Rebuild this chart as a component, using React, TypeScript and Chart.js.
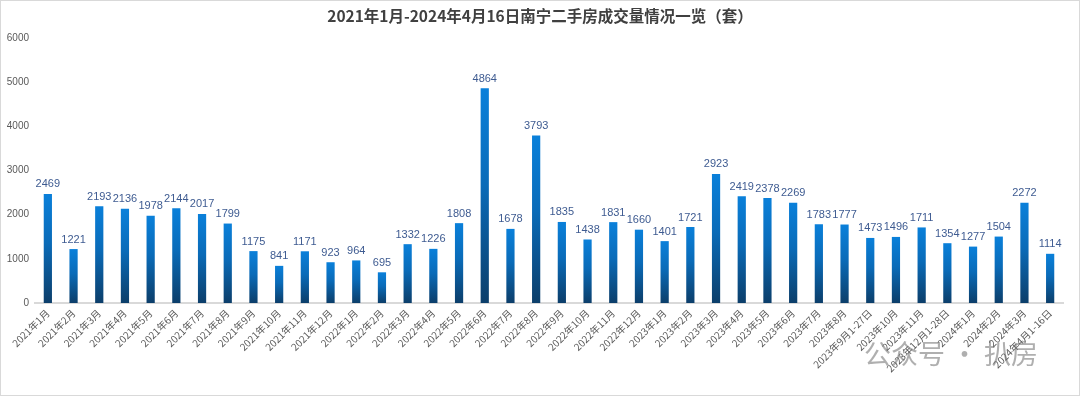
import React, { useEffect, useRef } from "react";
import { Chart, registerables } from "chart.js";

Chart.register(...registerables);

const TITLE = "2021年1月-2024年4月16日南宁二手房成交量情况一览（套）";

const categories: string[] = [
  "2021年1月", "2021年2月", "2021年3月", "2021年4月", "2021年5月", "2021年6月",
  "2021年7月", "2021年8月", "2021年9月", "2021年10月", "2021年11月", "2021年12月",
  "2022年1月", "2022年2月", "2022年3月", "2022年4月", "2022年5月", "2022年6月",
  "2022年7月", "2022年8月", "2022年9月", "2022年10月", "2022年11月", "2022年12月",
  "2023年1月", "2023年2月", "2023年3月", "2023年4月", "2023年5月", "2023年6月",
  "2023年7月", "2023年8月", "2023年9月1-27日", "2023年10月", "2023年11月", "2023年12月1-28日",
  "2024年1月", "2024年2月", "2024年3月", "2024年4月1-16日",
];

const volumes: number[] = [
  2469, 1221, 2193, 2136, 1978, 2144, 2017, 1799, 1175, 841, 1171, 923,
  964, 695, 1332, 1226, 1808, 4864, 1678, 3793, 1835, 1438, 1831, 1660,
  1401, 1721, 2923, 2419, 2378, 2269, 1783, 1777, 1473, 1496, 1711, 1354,
  1277, 1504, 2272, 1114,
];

const yTicks: number[] = [0, 1000, 2000, 3000, 4000, 5000, 6000];

const W = 1080;
const H = 396;

export default function App() {
  const ref = useRef<HTMLCanvasElement | null>(null);

  useEffect(() => {
    document.body.style.margin = "0";
    const canvas = ref.current;
    if (!canvas) return;

    const decor = {
      id: "decor",
      beforeDraw(chart: any) {
        const ctx = chart.ctx;
        ctx.save();
        ctx.fillStyle = "#ffffff";
        ctx.fillRect(0, 0, W, H);
        ctx.restore();
      },
      afterDatasetsDraw(chart: any) {
        const ctx = chart.ctx;
        const meta = chart.getDatasetMeta(0);
        ctx.save();
        ctx.font = "11px 'Liberation Sans', sans-serif";
        ctx.fillStyle = "#3E5B91";
        ctx.textAlign = "center";
        ctx.textBaseline = "bottom";
        meta.data.forEach((bar: any, i: number) => {
          ctx.fillText(String(volumes[i]), bar.x, bar.y - 4);
        });
        ctx.restore();
      },
      afterDraw(chart: any) {
        const ctx = chart.ctx;
        ctx.save();
        // title
        ctx.font = "bold 15.5px 'Noto Sans CJK SC', sans-serif";
        ctx.fillStyle = "#404040";
        ctx.textAlign = "center";
        ctx.textBaseline = "middle";
        ctx.fillText(TITLE, 540, 16);
        // overlay text
        ctx.font = "27px 'Noto Sans CJK SC', sans-serif";
        ctx.fillStyle = "rgba(110,110,110,0.55)";
        ctx.textAlign = "left";
        ctx.fillText("公众号 · 扒房", 864, 354);
        // frame
        ctx.strokeStyle = "#D9D9D9";
        ctx.lineWidth = 1;
        ctx.strokeRect(0.5, 0.5, W - 1, H - 1);
        ctx.restore();
      },
    };

    const chart = new Chart(canvas, {
      type: "bar",
      data: {
        labels: categories,
        datasets: [
          {
            data: volumes,
            backgroundColor: (c: any) => {
              const chartObj = c.chart;
              const y = chartObj.scales?.y;
              if (!y || c.type !== "data") return "#0A7DD6";
              const v = volumes[c.dataIndex];
              const top = y.getPixelForValue(v);
              const bottom = y.getPixelForValue(0);
              if (!isFinite(top) || !isFinite(bottom) || top === bottom) return "#0A7DD6";
              const g = chartObj.ctx.createLinearGradient(0, top, 0, bottom);
              g.addColorStop(0, "#0A80DA");
              g.addColorStop(0.45, "#0A6BB8");
              g.addColorStop(1, "#0C3E6A");
              return g;
            },
            borderWidth: 0,
            categoryPercentage: 1,
            barPercentage: 0.32,
          },
        ],
      },
      options: {
        responsive: false,
        animation: false,
        layout: { padding: { top: 38, left: 0, right: 17, bottom: 5 } },
        plugins: {
          legend: { display: false },
          title: { display: false },
          tooltip: { enabled: false },
        },
        scales: {
          x: {
            offset: true,
            grid: { display: false, drawTicks: false },
            border: { display: true, color: "#D9D9D9", width: 2 },
            ticks: {
              autoSkip: false,
              maxRotation: 45,
              minRotation: 45,
              padding: 4,
              color: "#595959",
              font: { size: 10, family: "'Noto Sans CJK SC', sans-serif" },
            },
            afterFit: (s: any) => {
              s.height = 88;
              s.paddingLeft = 0;
              s.paddingRight = 0;
            },
          },
          y: {
            min: 0,
            max: 6000,
            afterBuildTicks: (s: any) => {
              s.ticks = yTicks.map((v) => ({ value: v }));
            },
            grid: { display: false, drawTicks: false },
            border: { display: false },
            ticks: {
              padding: 6,
              color: "#595959",
              font: { size: 10, family: "'Liberation Sans', sans-serif" },
              callback: (v: any) => String(v),
            },
            afterFit: (s: any) => {
              s.width = 35;
              s.paddingTop = 0;
              s.paddingBottom = 0;
            },
          },
        },
      },
      plugins: [decor],
    } as any);

    return () => chart.destroy();
  }, []);

  return (
    <div style={{ position: "fixed", left: 0, top: 0, width: W, height: H }}>
      <canvas ref={ref} width={W} height={H} style={{ width: W, height: H, display: "block" }} />
    </div>
  );
}
